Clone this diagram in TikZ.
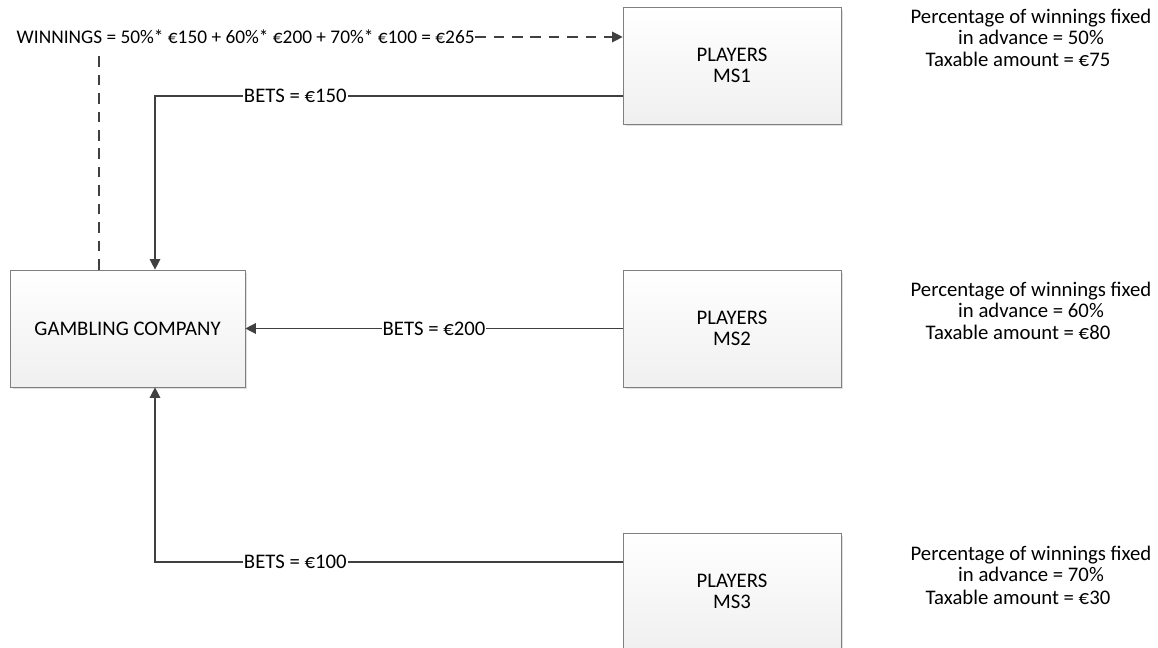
\documentclass[tikz,border=0pt]{standalone}
\usepackage{fontspec}
\setmainfont{Carlito}
\usetikzlibrary{arrows.meta,shadows}
\definecolor{linegrey}{HTML}{404040}
\definecolor{boxgrey}{HTML}{7F7F7F}
\begin{document}
\begin{tikzpicture}[x=0.02cm,y=-0.02cm,font=\fontsize{11.8}{12}\selectfont,
    box/.style={draw=boxgrey,top color=white,bottom color=black!6,align=center,
      minimum height=2.34cm,inner sep=0pt,
      drop shadow={shadow xshift=0.05cm,shadow yshift=-0.05cm,fill=black!12,opacity=1}},
    flow/.style={draw=linegrey,line width=0.8pt,-{Triangle[length=6pt,width=6pt]}},
    lbl/.style={fill=white,inner xsep=0.5pt,inner ysep=4pt},
    note/.style={align=center}]
    \useasboundingbox (0,0) rectangle (1158,648);
    \node[box,minimum width=4.7cm] (gc) at (127.5,328.5) {GAMBLING COMPANY};
    \node[box,minimum width=4.36cm] (ms1) at (732,65.5) {PLAYERS\\MS1};
    \node[box,minimum width=4.36cm] (ms2) at (732,328.5) {PLAYERS\\MS2};
    \node[box,minimum width=4.36cm] (ms3) at (732,591.5) {PLAYERS\\MS3};
    % bets
    \coordinate (k1) at (155,96);
    \coordinate (k3) at (155,562);
    \draw[flow] (ms1.west |- k1) -- node[lbl,pos=0.70]{BETS = €150} (k1) -- (k1 |- gc.north);
    \draw[flow] (ms2.west) -- node[lbl]{BETS = €200} (gc.east);
    \draw[flow] (ms3.west |- k3) -- node[lbl,pos=0.70]{BETS = €100} (k3) -- (k3 |- gc.south);
    % winnings
    \coordinate (w) at (99,37);
    \draw[flow,dash pattern=on 6pt off 4.5pt] (w |- gc.north) -- (w)
      -- node[lbl,pos=0.28,font=\fontsize{11}{12}\selectfont]{WINNINGS = 50\%* €150 + 60\%* €200 + 70\%* €100 = €265} (ms1.west |- w);
    % notes
    \node[note] (p1) at (1031,27) {Percentage of winnings fixed\\in advance = 50\%};
    \node (t1) at (1018,59) {Taxable amount = €75};
    \node[note] (p2) at (1031,300) {Percentage of winnings fixed\\in advance = 60\%};
    \node (t2) at (1018,332) {Taxable amount = €80};
    \node[note] (p3) at (1031,564) {Percentage of winnings fixed\\in advance = 70\%};
    \node (t3) at (1018,597) {Taxable amount = €30};
\end{tikzpicture}
\end{document}
